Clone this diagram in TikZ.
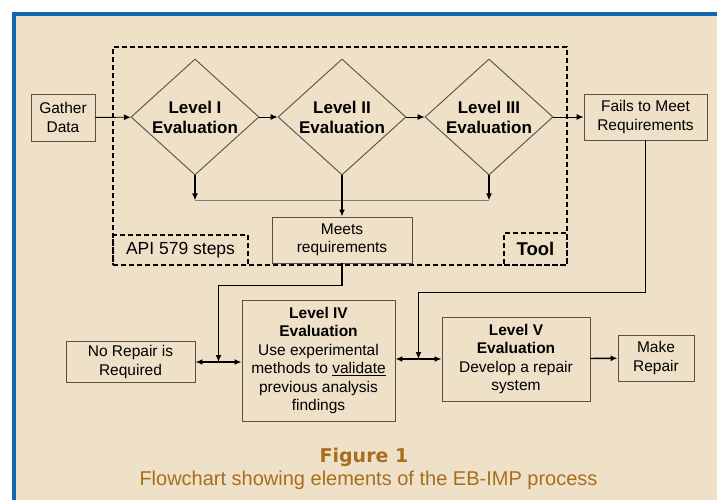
\documentclass[tikz,border=0pt]{standalone}
\usepackage{fontspec}
\setmainfont{Liberation Sans}
\newfontfamily\captfont{DejaVu Sans}
\usepackage{xcolor}
\usetikzlibrary{shapes.geometric,arrows.meta}

\definecolor{paper}{HTML}{EEE1C8}
\definecolor{rim}{HTML}{1565B0}
\definecolor{capt}{HTML}{A86E1E}
\definecolor{edge}{HTML}{5A4E46}

\tikzset{
  block/.style={draw=edge, line width=0.9pt, align=center, inner sep=2pt,
    font=\fontsize{15.5}{18.5}\selectfont},
  level/.style={diamond, aspect=1.1, draw=edge, line width=0.9pt, inner sep=0pt,
    minimum width=128pt, minimum height=116pt, align=center,
    font=\fontsize{17}{20}\selectfont\bfseries},
  frame/.style={draw=black, dash pattern=on 5pt off 3pt, line width=1.3pt},
  tag/.style={frame, inner sep=0pt, font=\fontsize{17.5}{20}\selectfont},
  thin flow/.style={-{Latex[length=7pt,width=6pt]}, line width=0.9pt},
  flow/.style={-{Latex[length=7pt,width=6pt]}, line width=1.8pt},
  both flow/.style={{Latex[length=7pt,width=6pt]}-{Latex[length=7pt,width=6pt]}, line width=1.8pt},
  bus/.style={draw=gray, line width=1.2pt}
}

\begin{document}
\begin{tikzpicture}[x=1pt,y=-1pt]
  \useasboundingbox (0,0) rectangle (717,500);

  % page panel
  \fill[rim] (12,12) rectangle (717,500);
  \fill[paper] (16,16) rectangle (717,500);

  % API 579 / tool frame
  \node[frame, minimum width=454pt, minimum height=218pt] (frame) at (340,156) {};
  \node[tag, anchor=south west, minimum width=135pt, minimum height=30pt] (api)
    at (frame.south west) {API 579 steps};
  \node[tag, anchor=south east, minimum width=63pt, minimum height=32pt,
    font=\fontsize{18.5}{20}\selectfont\bfseries] (tool) at (frame.south east) {Tool};

  % levels I to III
  \node[block, minimum width=64pt, minimum height=47pt] (gather) at (63,117.5) {Gather\\Data};
  \node[level] (lvone) at (195,117) {Level I\\Evaluation};
  \node[level] (lvtwo) at (342,117) {Level II\\Evaluation};
  \node[level] (lvthree) at (489,117) {Level III\\Evaluation};
  \node[block, minimum width=123pt, minimum height=46pt] (fails) at (645.5,117) {Fails to Meet\\Requirements};
  \node[block, fill=paper, minimum width=140pt, minimum height=46pt] (meets) at (342,240) {Meets\\requirements};

  \draw[thin flow] (gather) -- (lvone);
  \draw[thin flow] (lvone) -- (lvtwo);
  \draw[thin flow] (lvtwo) -- (lvthree);
  \draw[thin flow] (lvthree) -- (fails);

  % collect the outcomes
  \path (lvone.south) ++(0,25) coordinate (jone);
  \path (lvthree.south) ++(0,25) coordinate (jthree);
  \draw[bus] (jone) -- (jthree);
  \draw[flow] (lvone.south) -- (jone);
  \draw[flow] (lvtwo.south) -- (meets.north);
  \draw[flow] (lvthree.south) -- (jthree);

  % levels IV and V
  \node[block, minimum width=129pt, minimum height=41pt] (norepair) at (130.5,362) {No Repair is\\Required};
  \node[block, minimum width=153pt, minimum height=121pt] (lvfour) at (318.5,360.5)
    {\textbf{Level IV}\\\textbf{Evaluation}\\Use experimental\\methods to \underline{validate}\\previous analysis\\findings};
  \node[block, minimum width=148pt, minimum height=84pt] (lvfive) at (516,359)
    {\textbf{Level V}\\\textbf{Evaluation}\\Develop a repair\\system};
  \node[block, minimum width=76pt, minimum height=46pt] (make) at (656,358) {Make\\Repair};

  \draw[both flow] (norepair.east) -- coordinate (kone) (lvfour.west |- norepair.east);
  \draw[both flow] (lvfour.east |- lvfive.west) -- coordinate (ktwo) (lvfive.west);
  \draw[flow, line width=1.4pt] (lvfive) -- (make);

  % feed down from the tool
  \draw[flow] (meets.south) -- ++(0,22) -| (kone);
  \draw[flow] (fails.south) -- ++(0,152) -| (ktwo);

  % caption
  \node[text=capt, font=\captfont\fontsize{19}{22}\selectfont\bfseries] (fig) at (364,457) {Figure 1};
  \node[text=capt, font=\fontsize{20}{22}\selectfont] (figtext) at (368.5,480)
    {Flowchart showing elements of the EB-IMP process};
\end{tikzpicture}
\end{document}
